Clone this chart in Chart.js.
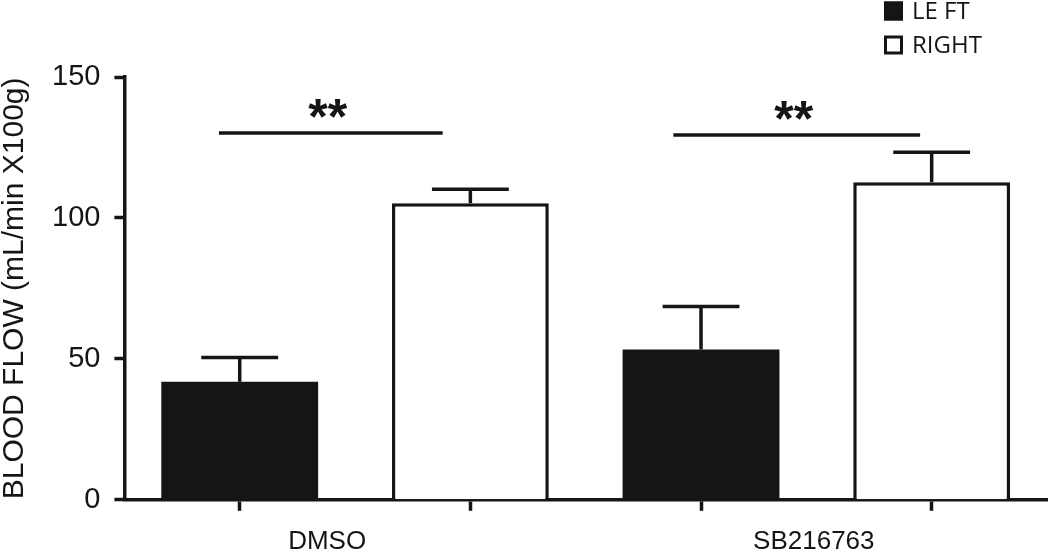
<!DOCTYPE html>
<html><head><meta charset="utf-8">
<script src="https://cdn.jsdelivr.net/npm/chart.js@4.4.0/dist/chart.umd.min.js"></script>
<style>html,body{margin:0;padding:0;background:#fff;}canvas{display:block;}</style>
</head><body>
<canvas id="c" width="1050" height="549"></canvas>
<script>
// ---- data ----
const barSlots = ['DMSO LE FT', 'DMSO RIGHT', 'SB216763 LE FT', 'SB216763 RIGHT'];
const groupLabels = ['DMSO', 'SB216763'];
const seriesNames = ['LE FT', 'RIGHT'];
const leftValues = [41.9, null, 53.3, null];
const rightValues = [null, 105.2, null, 112.7];
const leftErrors = [8.6, null, 15.3, null];
const rightErrors = [null, 5.0, null, 10.6];
const yTicks = [0, 50, 100, 150];
const sigLabels = ['**', '**'];
const sigLevels = [130.1, 129.4];

// ---- layout constants (not data) ----
const INK = '#151515';
const groupLabelAt = [0.379, 2.489];          // positions on the label axis (slot units)
const sigSpan = [[-0.09, 0.88], [1.88, 2.95]]; // bracket extents (slot units)

const errorBars = {
  id: 'errorBars',
  afterDatasetsDraw(chart) {
    const ctx = chart.ctx, y = chart.scales.y;
    chart.data.datasets.forEach((ds, di) => {
      const meta = chart.getDatasetMeta(di);
      meta.data.forEach((bar, i) => {
        const v = ds.data[i], e = ds.errors[i];
        if (v == null || e == null) return;
        const top = y.getPixelForValue(v), cap = y.getPixelForValue(v + e);
        const half = bar.width * 0.245;
        ctx.save();
        ctx.strokeStyle = INK; ctx.lineWidth = 3.5; ctx.lineCap = 'butt';
        ctx.beginPath();
        ctx.moveTo(bar.x, top); ctx.lineTo(bar.x, cap);
        ctx.moveTo(bar.x - half, cap); ctx.lineTo(bar.x + half, cap);
        ctx.stroke();
        ctx.restore();
      });
    });
  }
};

const significance = {
  id: 'significance',
  afterDraw(chart) {
    const ctx = chart.ctx, x = chart.scales.x, y = chart.scales.y;
    sigLabels.forEach((lab, k) => {
      const x0 = x.getPixelForValue(sigSpan[k][0]);
      const x1 = x.getPixelForValue(sigSpan[k][1]);
      const py = y.getPixelForValue(sigLevels[k]);
      ctx.save();
      ctx.strokeStyle = INK; ctx.lineWidth = 3.5;
      ctx.beginPath(); ctx.moveTo(x0, py); ctx.lineTo(x1, py); ctx.stroke();
      ctx.fillStyle = INK;
      ctx.font = 'bold 50px "Liberation Sans", Arial, sans-serif';
      ctx.textAlign = 'center'; ctx.textBaseline = 'alphabetic';
      ctx.fillText(lab, (x0 + x1) / 2 - 3, py + 1);
      ctx.restore();
    });
  }
};

const stackedLegend = {
  id: 'stackedLegend',
  afterDraw(chart) {
    const ctx = chart.ctx;
    const left = 884, size = 19, rows = [11, 45];
    chart.data.datasets.forEach((ds, i) => {
      const cy = rows[i];
      ctx.save();
      ctx.fillStyle = ds.backgroundColor;
      ctx.fillRect(left, cy - size / 2, size, size);
      ctx.strokeStyle = INK; ctx.lineWidth = 3;
      ctx.strokeRect(left + 1.5, cy - size / 2 + 1.5, size - 3, size - 3);
      ctx.fillStyle = INK;
      ctx.font = '24px "Open Sans", sans-serif';
      ctx.textAlign = 'left'; ctx.textBaseline = 'middle';
      ctx.fillText(ds.label, left + 28, cy + 1);
      ctx.restore();
    });
  }
};

Chart.defaults.font.family = '"Liberation Sans", Arial, sans-serif';
Chart.defaults.color = INK;

new Chart(document.getElementById('c'), {
  type: 'bar',
  data: {
    labels: barSlots,
    datasets: [
      { label: seriesNames[0], data: leftValues, errors: leftErrors,
        backgroundColor: INK, borderColor: INK, borderWidth: 0 },
      { label: seriesNames[1], data: rightValues, errors: rightErrors,
        backgroundColor: '#ffffff', borderColor: INK, borderWidth: 3.5 }
    ]
  },
  options: {
    responsive: false,
    animation: false,
    grouped: false,
    barPercentage: 0.68,
    categoryPercentage: 1,
    layout: { padding: { top: 77, right: 3, left: 0, bottom: -23 } },
    plugins: { legend: { display: false }, tooltip: { enabled: false } },
    scales: {
      x: {
        type: 'category', position: 'bottom', weight: 0,
        grid: { offset: false, drawOnChartArea: false, tickLength: 11, tickWidth: 3.5, tickColor: INK },
        border: { display: true, width: 3.5, color: INK },
        ticks: { display: false }
      },
      xl: {
        type: 'linear', position: 'bottom', weight: 1,
        min: -0.5, max: 3.5, offset: false,
        afterBuildTicks: (axis) => { axis.ticks = groupLabelAt.map(v => ({ value: v })); },
        grid: { display: false, drawTicks: false, offset: false },
        border: { display: false },
        ticks: { padding: 15, font: { size: 26 }, color: INK, autoSkip: false, maxRotation: 0,
          callback: (value, index) => groupLabels[index] }
      },
      y: {
        min: 0, max: 150,
        afterBuildTicks: (axis) => { axis.ticks = yTicks.map(v => ({ value: v })); },
        grid: { drawOnChartArea: false, tickLength: 10, tickWidth: 3.5, tickColor: INK },
        border: { display: true, width: 3.5, color: INK },
        ticks: { padding: 14, font: { size: 29 }, color: INK },
        title: { display: true, text: 'BLOOD FLOW (mL/min X100g)', color: INK,
          font: { size: 30, lineHeight: 1.0 }, padding: { top: 0, bottom: 8 } }
      }
    }
  },
  plugins: [errorBars, significance, stackedLegend]
});
</script>
</body></html>
